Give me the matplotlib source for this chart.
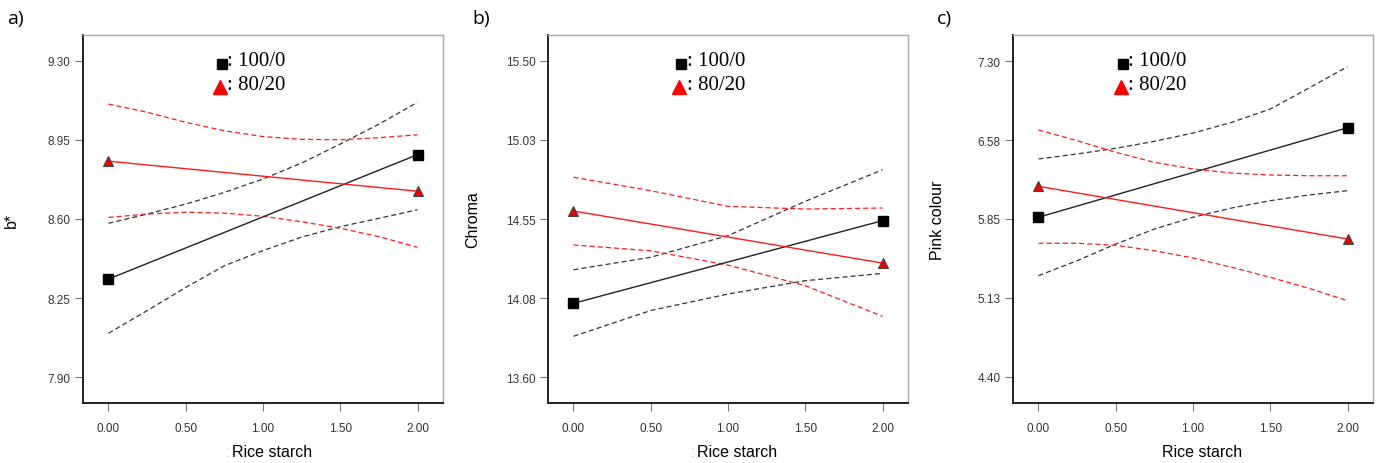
import numpy as np
import matplotlib
matplotlib.use('Agg')
import matplotlib.pyplot as plt

# x positions (Rice starch)
x_ends = [0.0, 2.0]
x_fine = [0.0, 0.25, 0.5, 0.75, 1.0, 1.25, 1.5, 1.75, 2.0]
x_coarse = [0.0, 0.5, 1.0, 1.5, 2.0]
x_ticks = [0.0, 0.5, 1.0, 1.5, 2.0]
x_ticklabels = ['0.00', '0.50', '1.00', '1.50', '2.00']

# a) b*
a_fit_100 = [8.334, 8.885]
a_fit_80 = [8.856, 8.723]
a_hi_100 = [8.581, 8.622, 8.666, 8.718, 8.777, 8.848, 8.932, 9.02, 9.117]
a_lo_100 = [8.094, 8.194, 8.297, 8.393, 8.46, 8.52, 8.566, 8.603, 8.641]
a_hi_80 = [9.109, 9.073, 9.028, 8.991, 8.965, 8.953, 8.951, 8.96, 8.973]
a_lo_80 = [8.607, 8.622, 8.63, 8.626, 8.612, 8.588, 8.559, 8.522, 8.475]
a_yticks = [7.90, 8.25, 8.60, 8.95, 9.30]
a_yticklabels = ['7.90', '8.25', '8.60', '8.95', '9.30']

# b) Chroma
b_fit_100 = [14.043, 14.54]
b_fit_80 = [14.598, 14.285]
b_hi_100 = [14.245, 14.32, 14.45, 14.656, 14.846]
b_lo_100 = [13.845, 14.0, 14.099, 14.179, 14.223]
b_hi_80 = [14.801, 14.72, 14.626, 14.61, 14.616]
b_lo_80 = [14.394, 14.359, 14.273, 14.149, 13.965]
b_yticks = [13.60, 14.075, 14.55, 15.025, 15.50]
b_yticklabels = ['13.60', '14.08', '14.55', '15.03', '15.50']

# c) Pink colour
c_fit_100 = [5.866, 6.688]
c_fit_80 = [6.15, 5.666]
c_hi_100 = [6.401, 6.447, 6.499, 6.563, 6.639, 6.737, 6.859, 7.052, 7.248]
c_lo_100 = [5.33, 5.467, 5.62, 5.758, 5.866, 5.951, 6.018, 6.07, 6.11]
c_hi_80 = [6.667, 6.569, 6.462, 6.37, 6.309, 6.272, 6.254, 6.247, 6.247]
c_lo_80 = [5.627, 5.627, 5.609, 5.559, 5.492, 5.407, 5.315, 5.214, 5.10]
c_yticks = [4.40, 5.125, 5.85, 6.575, 7.30]
c_yticklabels = ['4.40', '5.13', '5.85', '6.58', '7.30']

panels = [
    dict(tag='a)', ylabel='b*', xb=x_fine, fit100=a_fit_100, fit80=a_fit_80, hi100=a_hi_100,
         lo100=a_lo_100, hi80=a_hi_80, lo80=a_lo_80, yt=a_yticks, ytl=a_yticklabels,
         ylim=(7.785, 9.415), left=83, leg_x=0.47, colon=True, xl_x=272, yl_x=-0.178),
    dict(tag='b)', ylabel='Chroma', xb=x_coarse, fit100=b_fit_100, fit80=b_fit_80, hi100=b_hi_100,
         lo100=b_lo_100, hi80=b_hi_80, lo80=b_lo_80, yt=b_yticks, ytl=b_yticklabels,
         ylim=(13.444, 15.656), left=548, leg_x=0.455, colon=True, xl_x=737, yl_x=-0.189),
    dict(tag='c)', ylabel='Pink colour', xb=x_fine, fit100=c_fit_100, fit80=c_fit_80, hi100=c_hi_100,
         lo100=c_lo_100, hi80=c_hi_80, lo80=c_lo_80, yt=c_yticks, ytl=c_yticklabels,
         ylim=(4.161, 7.539), left=1013, leg_x=0.39, colon=False, xl_x=1202, yl_x=-0.189),
]

W, H = 1378, 464
fig = plt.figure(figsize=(W / 100, H / 100), dpi=100)
RED = '#ff1a1a'
DASH = (0, (4, 2.5))

for p in panels:
    ax = fig.add_axes([p['left'] / W, (H - 404) / H, 360 / W, 368 / H])

    # confidence bands
    ax.plot(p['xb'], p['hi100'], color='#333333', lw=0.9, ls=DASH)
    ax.plot(p['xb'], p['lo100'], color='#333333', lw=0.9, ls=DASH)
    ax.plot(p['xb'], p['hi80'], color=RED, lw=0.9, ls=DASH)
    ax.plot(p['xb'], p['lo80'], color=RED, lw=0.9, ls=DASH)

    # fitted lines
    ax.plot(x_ends, p['fit100'], color='#222222', lw=1.0, marker='s', ms=6.5,
            mfc='black', mec='black')
    ax.plot(x_ends, p['fit80'], color=RED, lw=1.0, marker='^', ms=7.5,
            mfc='#ee0000', mec='#444444', mew=0.8)

    ax.set_xlim(-0.165, 2.165)
    ax.set_ylim(*p['ylim'])
    ax.set_xticks(x_ticks)
    ax.set_xticklabels(x_ticklabels)
    ax.set_yticks(p['yt'])
    ax.set_yticklabels(p['ytl'])
    ax.tick_params(direction='out', length=6, width=0.8, color='#777777',
                   labelsize=8.5, labelcolor='#333333', pad=3)
    ax.tick_params(axis='x', pad=8)
    for lab in ax.get_xticklabels() + ax.get_yticklabels():
        lab.set_family('Liberation Sans')

    for s in ['left', 'bottom']:
        ax.spines[s].set_linewidth(1.4)
        ax.spines[s].set_color('#222222')
    for s in ['top', 'right']:
        ax.spines[s].set_linewidth(1.0)
        ax.spines[s].set_color('#aaaaaa')

    ax.set_ylabel(p['ylabel'], fontsize=11.5, family='Liberation Sans')
    ax.yaxis.set_label_coords(p['yl_x'], 0.5)

    # legend drawn by hand
    lx = p['leg_x']
    ax.plot([lx - 0.085], [0.922], transform=ax.transAxes, marker='s', ms=6.5,
            color='black', clip_on=False)
    ax.text(lx - 0.07, 0.93, ': 100/0', transform=ax.transAxes, fontsize=15,
            family='Liberation Serif', va='center', ha='left')
    ax.plot([lx - 0.09], [0.86], transform=ax.transAxes, marker='^', ms=10.5,
            color='red', clip_on=False)
    ax.text(lx - 0.07, 0.865, ': 80/20', transform=ax.transAxes, fontsize=15,
            family='Liberation Serif', va='center', ha='left')

    fig.text((p['left'] - 76) / W, 1 - 19 / H, p['tag'], fontsize=14,
             family='Open Sans', va='center', ha='left')
    # x label, the leftover colon is very faint in the original
    fig.text(p['xl_x'] / W, 1 - 453 / H, 'Rice starch', fontsize=11.5,
             family='Liberation Sans', va='center', ha='center')
    if p['colon']:
        fig.text((p['xl_x'] - 44) / W, 1 - 453 / H, ':', fontsize=11.5, color='#cccccc',
                 family='Liberation Sans', va='center', ha='center')

plt.savefig('out.png', dpi=100)
